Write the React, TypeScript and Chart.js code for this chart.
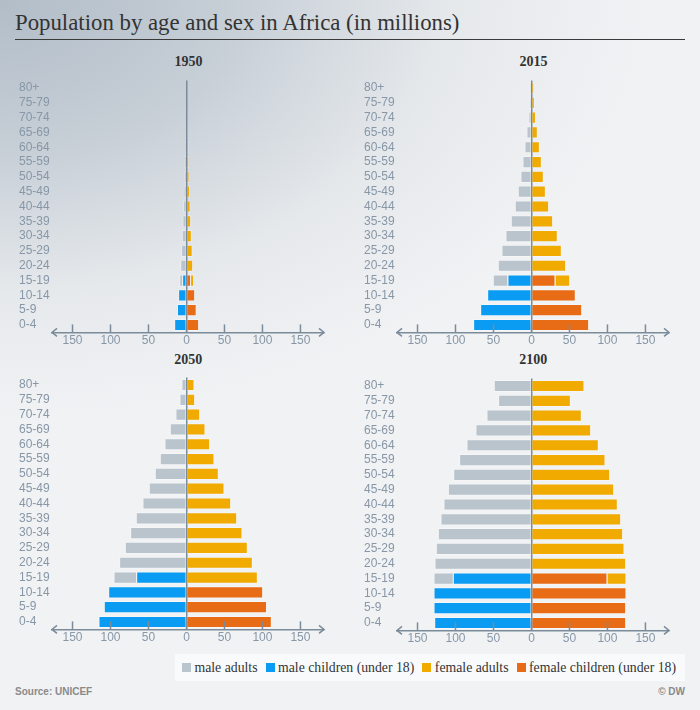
import React, { useEffect, useRef } from 'react';
import { Chart, registerables } from 'chart.js';

Chart.register(...registerables);

const AGE_GROUPS = ['80+', '75-79', '70-74', '65-69', '60-64', '55-59', '50-54', '45-49', '40-44', '35-39', '30-34', '25-29', '20-24', '15-19', '10-14', '5-9', '0-4'];
const X_TICKS = [-150, -100, -50, 0, 50, 100, 150];

// 1950 (millions)
const MALE_ADULTS_1950 = [0.4, 0.7, 1.0, 1.4, 2.0, 2.6, 3.3, 3.7, 4.4, 5.2, 6.1, 7.0, 8.2, 3.9, 0, 0, 0];
const MALE_CHILDREN_1950 = [0, 0, 0, 0, 0, 0, 0, 0, 0, 0, 0, 0, 0, 5.7, 11.0, 12.5, 16.2];
const FEMALE_ADULTS_1950 = [0.5, 1.0, 1.5, 2.2, 2.8, 3.4, 3.9, 4.6, 5.4, 6.1, 7.0, 8.1, 8.8, 4.0, 0, 0, 0];
const FEMALE_CHILDREN_1950 = [0, 0, 0, 0, 0, 0, 0, 0, 0, 0, 0, 0, 0, 6.0, 11.4, 13.4, 16.6];

// 2015
const MALE_ADULTS_2015 = [1.8, 2.2, 4.0, 6.6, 9.2, 11.8, 14.5, 18.0, 22.0, 27.2, 34.2, 39.5, 44.3, 19.3, 0, 0, 0];
const MALE_CHILDREN_2015 = [0, 0, 0, 0, 0, 0, 0, 0, 0, 0, 0, 0, 0, 31.6, 58.3, 67.5, 76.8];
const FEMALE_ADULTS_2015 = [3.5, 4.4, 6.0, 8.3, 11.0, 13.6, 16.2, 18.9, 23.2, 28.5, 34.6, 39.9, 45.6, 19.3, 0, 0, 0];
const FEMALE_CHILDREN_2015 = [0, 0, 0, 0, 0, 0, 0, 0, 0, 0, 0, 0, 0, 31.6, 58.3, 66.7, 75.9];

// 2050
const MALE_ADULTS_2050 = [6.6, 9.2, 14.5, 21.9, 28.9, 35.1, 41.7, 49.6, 57.9, 66.7, 74.1, 81.1, 88.6, 29.8, 0, 0, 0];
const MALE_CHILDREN_2050 = [0, 0, 0, 0, 0, 0, 0, 0, 0, 0, 0, 0, 0, 66.2, 103.0, 108.8, 115.8];
const FEMALE_ADULTS_2050 = [10.5, 11.4, 18.0, 25.0, 31.1, 36.8, 42.5, 50.0, 58.8, 66.7, 73.7, 80.7, 87.3, 93.9, 0, 0, 0];
const FEMALE_CHILDREN_2050 = [0, 0, 0, 0, 0, 0, 0, 0, 0, 0, 0, 0, 0, 0, 100.9, 106.0, 112.3];

// 2100
const MALE_ADULTS_2100 = [49.6, 43.9, 59.2, 73.7, 85.5, 95.2, 103.0, 110.0, 115.8, 119.7, 123.2, 125.9, 127.6, 25.4, 0, 0, 0];
const MALE_CHILDREN_2100 = [0, 0, 0, 0, 0, 0, 0, 0, 0, 0, 0, 0, 0, 103.5, 128.9, 128.9, 128.0];
const FEMALE_ADULTS_2100 = [69.7, 51.8, 66.2, 78.5, 88.6, 97.4, 103.5, 108.8, 113.6, 118.0, 120.6, 122.4, 124.6, 25.0, 0, 0, 0];
const FEMALE_CHILDREN_2100 = [0, 0, 0, 0, 0, 0, 0, 0, 0, 0, 0, 0, 0, 100.0, 125.0, 124.6, 124.6];

const GRAY = '#b9c4cd';
const BLUE = '#0a9cf2';
const YELLOW = '#f0aa00';
const ORANGE = '#e86c15';
const AXIS_COLOR = '#7b8b9a';
const LABEL_COLOR = '#8797a7';

const SANS = '"Liberation Sans", Arial, sans-serif';
const SERIF = '"Liberation Serif", "Times New Roman", serif';

const axisDecor = {
  id: 'axisDecor',
  afterDraw(chart: any) {
    const { ctx, chartArea } = chart;
    const x = chart.scales.x;
    const y = x.top;
    ctx.save();
    ctx.strokeStyle = AXIS_COLOR;
    ctx.lineWidth = 1.5;
    X_TICKS.forEach((v) => {
      const px = x.getPixelForValue(v);
      ctx.beginPath();
      ctx.moveTo(px, y);
      ctx.lineTo(px, y - 8);
      ctx.stroke();
    });
    ctx.beginPath();
    ctx.moveTo(chartArea.left + 5, y - 4);
    ctx.lineTo(chartArea.left, y);
    ctx.lineTo(chartArea.left + 5, y + 4);
    ctx.moveTo(chartArea.right - 5, y - 4);
    ctx.lineTo(chartArea.right, y);
    ctx.lineTo(chartArea.right - 5, y + 4);
    ctx.stroke();
    ctx.restore();
  },
};

type PanelProps = {
  left: number;
  top: number;
  maleAdults: number[];
  maleChildren: number[];
  femaleAdults: number[];
  femaleChildren: number[];
};

function Panel({ left, top, maleAdults, maleChildren, femaleAdults, femaleChildren }: PanelProps) {
  const ref = useRef<HTMLCanvasElement | null>(null);
  useEffect(() => {
    if (!ref.current) return;
    const border = 'rgba(255,255,255,0.35)';
    const common = { stack: 's', borderWidth: 1, borderColor: border, barPercentage: 0.82, categoryPercentage: 1 };
    const chart = new Chart(ref.current, {
      type: 'bar',
      data: {
        labels: AGE_GROUPS,
        datasets: [
          { label: 'male children (under 18)', data: maleChildren.map((v) => -v), backgroundColor: BLUE, ...common },
          { label: 'male adults', data: maleAdults.map((v) => -v), backgroundColor: GRAY, ...common },
          { label: 'female children (under 18)', data: femaleChildren, backgroundColor: ORANGE, ...common },
          { label: 'female adults', data: femaleAdults, backgroundColor: YELLOW, ...common },
        ],
      },
      options: {
        indexAxis: 'y',
        responsive: false,
        animation: false,
        devicePixelRatio: 1,
        layout: { padding: { left: 19, right: 26, top: 30.6, bottom: 0 } },
        plugins: { legend: { display: false }, tooltip: { enabled: false }, title: { display: false } },
        scales: {
          x: {
            stacked: true,
            min: -177,
            max: 181,
            z: 1,
            afterBuildTicks: (s: any) => {
              s.ticks = X_TICKS.map((v) => ({ value: v }));
            },
            afterFit: (s: any) => {
              s.height = 17.6;
            },
            ticks: {
              callback: (v: any) => String(Math.abs(Number(v))),
              color: LABEL_COLOR,
              font: { family: SANS, size: 12 },
              padding: 1,
              maxRotation: 0,
              autoSkip: false,
            },
            grid: {
              drawTicks: false,
              lineWidth: 1.5,
              color: (c: any) => (c.tick && c.tick.value === 0 ? AXIS_COLOR : 'rgba(0,0,0,0)'),
            },
            border: { display: true, color: AXIS_COLOR, width: 1.5 },
          },
          y: {
            stacked: true,
            afterFit: (s: any) => {
              s.width = 33;
            },
            grid: { display: false },
            border: { display: false },
            ticks: {
              crossAlign: 'far',
              color: LABEL_COLOR,
              font: { family: SANS, size: 12 },
              padding: 0,
              autoSkip: false,
            },
          },
        },
      } as any,
      plugins: [axisDecor],
    });
    return () => chart.destroy();
  }, [maleAdults, maleChildren, femaleAdults, femaleChildren]);
  return (
    <canvas
      ref={ref}
      width={350}
      height={300}
      style={{ position: 'absolute', left, top, width: 350, height: 300 }}
    />
  );
}

const LEGEND = [
  { label: 'male adults', color: GRAY },
  { label: 'male children (under 18)', color: BLUE },
  { label: 'female adults', color: YELLOW },
  { label: 'female children (under 18)', color: ORANGE },
];

function PanelTitle({ text, cx, top }: { text: string; cx: number; top: number }) {
  return (
    <div
      style={{
        position: 'absolute',
        left: cx - 40,
        width: 80,
        top,
        textAlign: 'center',
        fontFamily: SERIF,
        fontWeight: 'bold',
        fontSize: 14,
        lineHeight: '14px',
        color: '#333',
      }}
    >
      {text}
    </div>
  );
}

export default function App() {
  return (
    <div
      style={{
        position: 'absolute',
        left: 0,
        top: 0,
        width: 700,
        height: 710,
        overflow: 'hidden',
        backgroundColor: '#f1f2f4',
        backgroundImage:
          'radial-gradient(ellipse 650px 420px at 0px 0px, #b2bdc8 0%, #c6ced6 35%, #e6e9ec 70%, #f1f2f4 100%)',
      }}
    >
      <div
        style={{
          position: 'absolute',
          left: 15,
          top: 9.5,
          width: 670,
          fontFamily: SERIF,
          fontSize: 22.8,
          lineHeight: '26px',
          color: '#333',
          whiteSpace: 'nowrap',
        }}
      >
        Population by age and sex in Africa (in millions)
      </div>
      <div style={{ position: 'absolute', left: 15, top: 38.5, width: 670, height: 1.5, background: '#3a3a3a' }} />

      <PanelTitle text="1950" cx={188.5} top={55} />
      <PanelTitle text="2015" cx={533.5} top={55} />
      <PanelTitle text="2050" cx={188.3} top={353} />
      <PanelTitle text="2100" cx={533.3} top={353} />

      <Panel left={0} top={50} maleAdults={MALE_ADULTS_1950} maleChildren={MALE_CHILDREN_1950} femaleAdults={FEMALE_ADULTS_1950} femaleChildren={FEMALE_CHILDREN_1950} />
      <Panel left={345} top={50} maleAdults={MALE_ADULTS_2015} maleChildren={MALE_CHILDREN_2015} femaleAdults={FEMALE_ADULTS_2015} femaleChildren={FEMALE_CHILDREN_2015} />
      <Panel left={0} top={346.7} maleAdults={MALE_ADULTS_2050} maleChildren={MALE_CHILDREN_2050} femaleAdults={FEMALE_ADULTS_2050} femaleChildren={FEMALE_CHILDREN_2050} />
      <Panel left={345} top={347.5} maleAdults={MALE_ADULTS_2100} maleChildren={MALE_CHILDREN_2100} femaleAdults={FEMALE_ADULTS_2100} femaleChildren={FEMALE_CHILDREN_2100} />

      <div
        style={{
          position: 'absolute',
          left: 175,
          top: 654,
          width: 510,
          height: 27,
          background: '#f9fafb',
          display: 'flex',
          alignItems: 'center',
          justifyContent: 'flex-end',
          paddingRight: 9,
          boxSizing: 'border-box',
          fontFamily: SERIF,
          fontSize: 13.75,
          color: '#333',
        }}
      >
        {LEGEND.map((item, i) => (
          <div key={item.label} style={{ display: 'flex', alignItems: 'center', marginLeft: i === 0 ? 0 : 8 }}>
            <span style={{ display: 'inline-block', width: 9, height: 9, background: item.color, marginRight: 3.5 }} />
            <span style={{ whiteSpace: 'nowrap' }}>{item.label}</span>
          </div>
        ))}
      </div>

      <div
        style={{
          position: 'absolute',
          left: 15,
          top: 686,
          fontFamily: SANS,
          fontWeight: 'bold',
          fontSize: 10,
          lineHeight: '12px',
          color: '#8a8a8a',
        }}
      >
        Source: UNICEF
      </div>
      <div
        style={{
          position: 'absolute',
          right: 15,
          top: 686,
          fontFamily: SANS,
          fontWeight: 'bold',
          fontSize: 10,
          lineHeight: '12px',
          color: '#8a8a8a',
        }}
      >
        © DW
      </div>
    </div>
  );
}
